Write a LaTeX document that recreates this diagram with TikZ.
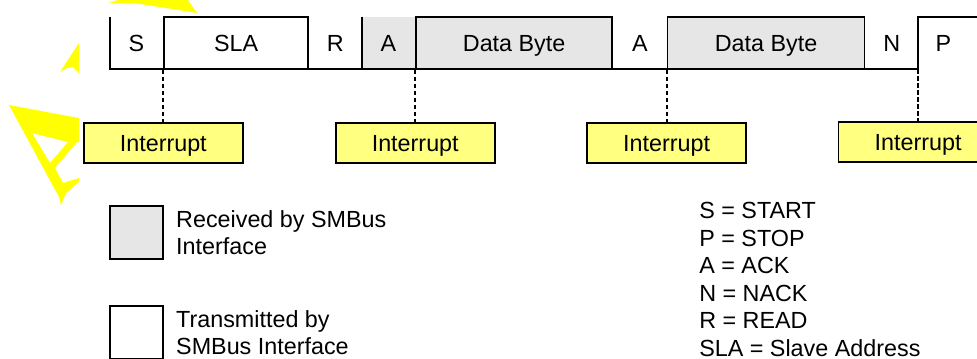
\documentclass[tikz,border=0pt]{standalone}
\usepackage{fontspec}
\setmainfont{Liberation Sans}
\usetikzlibrary{positioning}
\definecolor{busink}{HTML}{000000}
\definecolor{busgray}{HTML}{E6E6E6}
\definecolor{busyellow}{HTML}{FFFF80}
\definecolor{markyellow}{HTML}{FFFF00}

\begin{document}
\begin{tikzpicture}[
  x=0.25mm, y=-0.25mm,
  font=\fontsize{16.6}{19.2}\selectfont,
  cell/.style={minimum height=13mm, inner sep=0pt, text height=11.8pt, text depth=0pt, text=busink},
  hicell/.style={cell, draw=busink, line width=1.3pt},
  wire/.style={draw=busink, line width=1.3pt},
  irq/.style={draw=busink, fill=busyellow, line width=1.3pt, minimum width=39.75mm,
    minimum height=10mm, inner sep=0pt, text height=11.8pt, text depth=0pt},
  tick/.style={draw=busink, line width=1.4pt, dash pattern=on 3pt off 2pt},
  keybox/.style={draw=busink, line width=1.3pt, minimum size=13.25mm, inner sep=0pt},
  keytext/.style={align=left, inner sep=0pt, text=busink},
]

\useasboundingbox (0,0) rectangle (977,358);
\clip (0,0) rectangle (977,358);

% ===== yellow mark on the left =====
\fill[markyellow] (108,3) -- (112,2) -- (118,0) -- (188,0) -- (197,13) -- (160,7) -- (133,3) -- (118,3) -- cycle;
\fill[markyellow] (60,72) -- (79,43) -- (79,73) -- (73,67) -- (67,68) -- cycle;
\fill[markyellow, even odd rule] (9,105) -- (79,118) -- (79,142) -- (77,142) -- (55,168) -- (63,183)
  -- (79,178) -- (79,182) -- (66,193) -- (61,205) -- (59,197) -- cycle
  (32,133) -- (68,142) -- (50,163) -- cycle;

% ===== frame sequence =====
\node[cell, minimum width=13.25mm] (s) at (136.5,43) {S};
\node[hicell, minimum width=36mm, right=0pt of s] (sla) {SLA};
\node[cell, minimum width=13mm, right=0pt of sla] (r) {R};
\node[cell, fill=busgray, minimum width=13.25mm, right=0pt of r] (ack1) {A};
\node[hicell, fill=busgray, minimum width=49mm, right=0pt of ack1] (data1) {Data Byte};
\node[cell, minimum width=13.25mm, right=0pt of data1] (ack2) {A};
\node[hicell, fill=busgray, minimum width=49.25mm, right=0pt of ack2] (data2) {Data Byte};
\node[cell, minimum width=13mm, right=0pt of data2] (nack) {N};
\node[cell, minimum width=12.5mm, right=0pt of nack] (stop) {P};

\draw[wire] (s.north west) -- (s.south west) -- (stop.south west) -- (stop.north west) -- ++(40mm,0);
\draw[wire] (ack1.north west) -- (ack1.south west);

% ===== interrupts =====
\node[irq, below=13mm of sla.south west] (int1) {Interrupt};
\node[irq, below=13mm of data1.south west] (int2) {Interrupt};
\node[irq, below=13mm of data2.south west] (int3) {Interrupt};
\node[irq, below=13mm of stop.south west] (int4) {Interrupt};

\draw[tick] (sla.south west) -- (int1);
\draw[tick] (data1.south west) -- (int2);
\draw[tick] (data2.south west) -- (int3);
\draw[tick] (stop.south west) -- (int4);

% ===== legend =====
\node[keybox, fill=busgray] (rxkey) at (136.5,232.5) {};
\node[keytext, right=3mm of rxkey] (rxtext) {Received by SMBus\\Interface};
\node[keybox, below=11.25mm of rxkey] (txkey) {};
\node[keytext, right=3mm of txkey] (txtext) {Transmitted by\\SMBus Interface};

\node[keytext, anchor=north west, font=\fontsize{16.6}{19.6}\selectfont] (abbrev) at (699,202)
  {S = START\\P = STOP\\A = ACK\\N = NACK\\R = READ\\SLA = Slave Address};

\end{tikzpicture}
\end{document}
